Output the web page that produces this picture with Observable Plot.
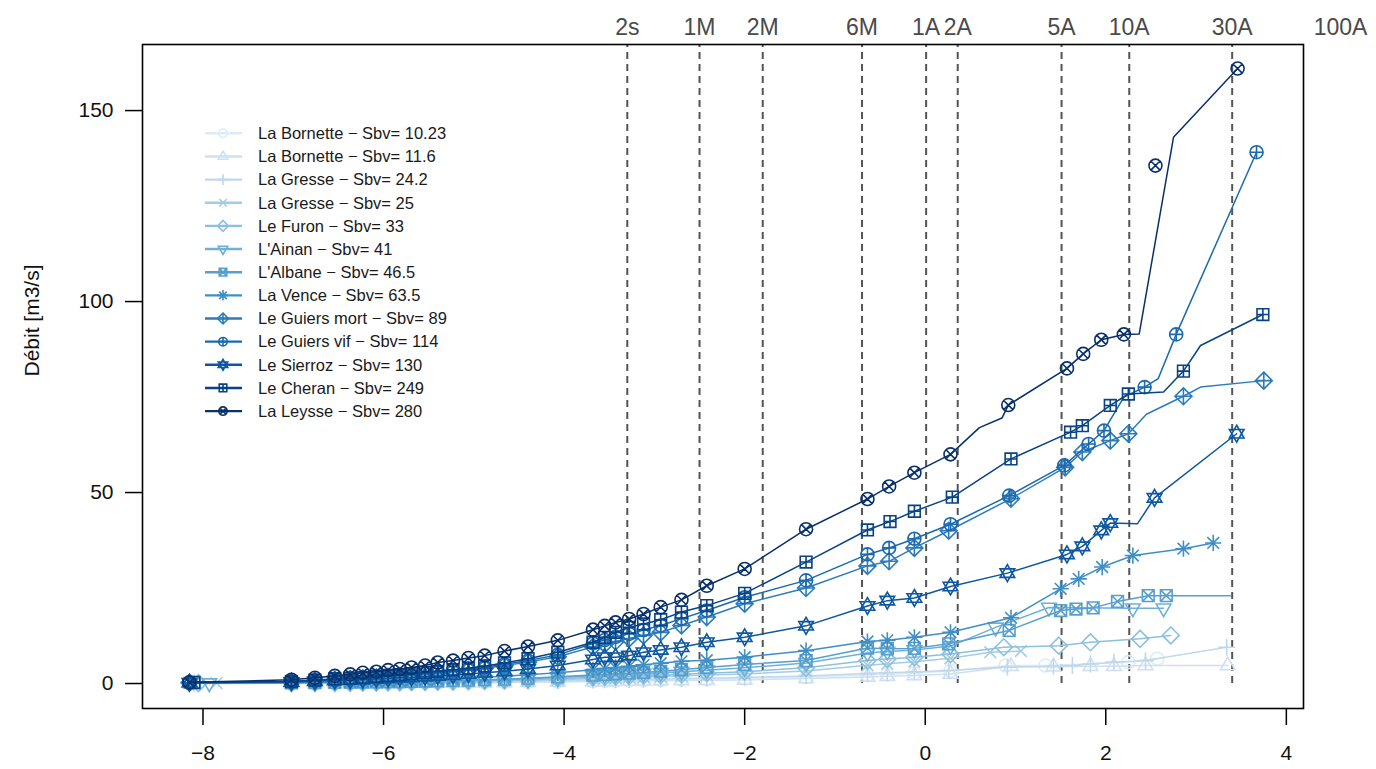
<!DOCTYPE html>
<html>
<head>
<meta charset="utf-8">
<script src="https://cdn.jsdelivr.net/npm/d3@7"></script>
<script src="https://cdn.jsdelivr.net/npm/@observablehq/plot@0.6"></script>
<style>
  html, body { margin: 0; padding: 0; background: #fff; overflow: hidden; }
  #chart svg { display: block; font-family: "Liberation Sans", Arial, sans-serif; }
</style>
</head>
<body>
<div id="chart"></div>
<script>
// ---------- data ----------
const seriesNames = ["La Bornette", "La Bornette", "La Gresse", "La Gresse", "Le Furon", "L'Ainan", "L'Albane",
  "La Vence", "Le Guiers mort", "Le Guiers vif", "Le Sierroz", "Le Cheran", "La Leysse"];
const sbvValues = ["10.23", "11.6", "24.2", "25", "33", "41", "46.5", "63.5", "89", "114", "130", "249", "280"];
const seriesColors = ["#DEEBF7", "#CEE0F2", "#BFD8EC", "#A4CCE3", "#8DC0DD", "#6FB0D7", "#569FCE",
  "#3F8FC5", "#2C7CBA", "#1B69AE", "#0C57A0", "#084385", "#08306B"];

// return-period reference lines (x = reduced variate) and their labels
const periodX = [-3.30, -2.50, -1.80, -0.70, 0.01, 0.36, 1.51, 2.26, 3.40, 4.60];
const periodLabels = ["2s", "1M", "2M", "6M", "1A", "2A", "5A", "10A", "30A", "100A"];

const xTicks = [-8, -6, -4, -2, 0, 2, 4];
const yTicks = [0, 50, 100, 150];

// first point of each series
const firstX = [-8.15, -8.10, -8.10, -7.85, -8.05, -7.93, -8.10, -8.15, -8.15, -8.15, -8.15, -8.10, -8.15];
const firstY = [0.02, 0.02, 0.05, 0.10, 0.10, 0.10, 0.10, 0.15, 0.20, 0.20, 0.20, 0.30, 0.30];

// common x positions for the low part of all series
const gridX = [-7.02, -6.76, -6.54, -6.37, -6.23, -6.08, -5.95, -5.82, -5.69, -5.54, -5.40, -5.23, -5.06, -4.88,
  -4.66, -4.40, -4.07, -3.68, -3.55, -3.43, -3.28, -3.12, -2.93, -2.70, -2.42, -2.00, -1.32, -0.64];

const bornette1Low = [0.05,0.06,0.07,0.08,0.09,0.1,0.11,0.12,0.13,0.15,0.17,0.19,0.22,0.25,0.3,0.36,0.45,0.6,0.65,0.7,0.75,0.82,0.9,1.0,1.1,1.3,1.7,2.2];
const bornette1HiX = [-0.42,-0.12,0.28,0.89,1.33,2.25,2.57];
const bornette1HiY = [2.4,2.7,3.3,4.7,4.7,5.6,6.5];

const bornette2Low = [0.04,0.05,0.06,0.07,0.08,0.09,0.1,0.11,0.12,0.13,0.15,0.17,0.19,0.22,0.26,0.32,0.4,0.5,0.55,0.6,0.65,0.7,0.75,0.8,0.85,0.95,1.3,1.7];
const bornette2HiX = [-0.42,-0.12,0.28,0.95,1.42,1.83,2.09,2.44,3.35];
const bornette2HiY = [1.9,2.1,2.5,4.5,4.4,4.5,4.5,4.7,4.7];

const gresse1Low = [0.08,0.1,0.12,0.14,0.16,0.18,0.2,0.22,0.24,0.27,0.3,0.34,0.38,0.43,0.5,0.6,0.72,0.9,0.95,1.0,1.05,1.1,1.2,1.3,1.4,1.6,2.0,2.6];
const gresse1HiX = [-0.42,-0.12,0.26,0.91,1.42,1.63,1.83,2.09,2.44,3.34];
const gresse1HiY = [2.8,3.0,3.4,4.3,4.5,4.7,5.1,5.6,6.0,9.5];

const gresse2Low = [0.12,0.15,0.18,0.2,0.23,0.26,0.29,0.32,0.35,0.4,0.45,0.5,0.56,0.63,0.72,0.85,1.0,1.3,1.4,1.5,1.6,1.7,1.85,2.0,2.2,2.5,3.3,4.8];
const gresse2HiX = [-0.42,-0.12,0.28,0.72,1.06];
const gresse2HiY = [5.2,5.7,6.6,8.2,8.5];

const furonLow = [0.15,0.18,0.21,0.24,0.27,0.3,0.34,0.38,0.42,0.47,0.52,0.58,0.65,0.73,0.85,1.0,1.25,1.6,1.7,1.8,1.9,2.05,2.2,2.4,2.7,3.1,4.1,6.0];
const furonHiX = [-0.42,-0.12,0.28,0.87,1.48,1.83,2.38,2.72];
const furonHiY = [6.4,6.9,7.7,9.5,9.9,10.8,11.7,12.6];

const ainanLow = [0.18,0.22,0.26,0.3,0.33,0.37,0.41,0.46,0.51,0.57,0.64,0.72,0.8,0.9,1.05,1.25,1.6,2.0,2.15,2.3,2.45,2.6,2.8,3.1,3.5,4.1,5.4,8.0];
const ainanHiX = [-0.42,-0.12,0.28,0.78,1.37,2.30,2.64];
const ainanHiY = [8.4,8.8,9.8,14.7,19.9,19.7,19.7];

const albaneLow = [0.2,0.25,0.3,0.34,0.38,0.42,0.47,0.52,0.58,0.65,0.72,0.8,0.9,1.0,1.15,1.4,1.75,2.2,2.4,2.55,2.7,2.9,3.2,3.6,4.2,5.0,6.0,9.3];
const albaneHiX = [-0.42,-0.12,0.26,0.93,1.50,1.67,1.86,2.13,2.47,2.67];
const albaneHiY = [9.1,9.2,10.4,13.9,19.1,19.5,19.8,21.5,23.0,23.0];
const albaneLineX = [3.38];
const albaneLineY = [23.0];

const venceLow = [0.25,0.3,0.38,0.45,0.52,0.6,0.7,0.8,0.9,1.0,1.15,1.3,1.45,1.65,1.9,2.3,2.8,3.6,3.9,4.2,4.5,4.9,5.3,5.8,6.1,6.9,8.6,11.0];
const venceHiX = [-0.42,-0.12,0.28,0.95,1.50,1.70,1.96,2.30,2.86,3.19];
const venceHiY = [11.3,12.1,13.4,17.2,24.8,27.4,30.5,33.5,35.3,36.8];

const guiersMortLow = [0.5,0.75,0.95,1.15,1.35,1.55,1.75,1.95,2.2,2.45,2.75,3.1,3.5,4.0,4.7,5.6,7.0,9.6,10.3,11.0,11.8,12.6,13.4,15.2,17.4,20.9,25.0,30.8];
const guiersMortHiX = [-0.40,-0.12,0.26,0.95,1.55,1.74,2.05,2.25,2.86,3.75];
const guiersMortHiY = [32.0,35.5,40.0,48.4,56.6,60.6,63.6,65.4,75.2,79.3];
const guiersMortLineX = [2.45, 3.05];
const guiersMortLineY = [70.5, 77.6];

const guiersVifLow = [0.5,0.8,1.05,1.3,1.5,1.75,1.95,2.15,2.4,2.7,3.0,3.4,3.8,4.3,5.0,6.0,7.5,10.5,11.4,12.2,13.0,14.0,15.2,17.0,19.1,22.6,27.0,33.8];
const guiersVifHiX = [-0.40,-0.12,0.28,0.93,1.54,1.81,1.98,2.43,2.78,3.67];
const guiersVifHiY = [35.5,37.9,41.7,49.2,57.1,62.7,66.2,77.6,91.4,139.1];
const guiersVifLineX = [2.20, 2.58];
const guiersVifLineY = [75.0, 79.8];

const sierrozLow = [0.4,0.6,0.8,0.9,1.0,1.2,1.3,1.5,1.6,1.8,2.0,2.2,2.5,2.8,3.2,3.8,4.7,6.3,6.9,6.9,7.3,8.2,8.8,9.5,10.8,12.1,15.1,20.3];
const sierrozHiX = [-0.42,-0.12,0.28,0.91,1.57,1.74,1.95,2.05,2.54,3.45];
const sierrozHiY = [21.7,22.4,25.4,28.9,33.8,35.9,40.1,42.0,48.6,65.4];
const sierrozLineX = [2.35];
const sierrozLineY = [41.8];

const cheranLow = [0.5,0.9,1.2,1.4,1.6,1.9,2.1,2.3,2.6,2.9,3.2,3.6,4.0,4.6,5.4,6.5,8.2,10.8,12.1,13.4,14.7,15.6,16.7,18.7,20.4,23.6,31.8,40.2];
const cheranHiX = [-0.39,-0.12,0.30,0.95,1.61,1.74,2.05,2.25,2.86,3.74];
const cheranHiY = [42.4,45.1,48.8,58.8,65.8,67.5,72.8,75.8,81.8,96.6];
const cheranLineX = [2.64, 3.05];
const cheranLineY = [76.3, 88.5];

const leysseLow = [1.0,1.5,2.0,2.4,2.8,3.1,3.5,3.8,4.2,4.7,5.5,6.0,6.7,7.3,8.5,9.7,11.3,14.1,15.1,16.0,16.9,18.2,20.0,21.9,25.6,30.0,40.4,48.3];
const leysseHiX = [-0.40,-0.12,0.28,0.92,1.57,1.75,1.95,2.20,2.55,3.46];
const leysseHiY = [51.6,55.2,60.0,72.9,82.5,86.3,90.0,91.4,135.6,161.0];
const leysseLineX = [0.60, 0.85, 2.37, 2.75];
const leysseLineY = [67.0, 69.5, 91.5, 143.0];
const leysseOffLineX = [2.55];

// ---------- R-like plotting symbols (pch 1..13) ----------
function sym(fn) { return { draw(ctx, size) { fn(ctx, Math.sqrt(size / Math.PI)); } }; }
const circ = (c, r) => { c.moveTo(r, 0); c.arc(0, 0, r, 0, 2 * Math.PI); c.closePath(); };
const plusP = (c, s) => { c.moveTo(-s, 0); c.lineTo(s, 0); c.moveTo(0, -s); c.lineTo(0, s); };
const timesP = (c, s) => { c.moveTo(-s, -s); c.lineTo(s, s); c.moveTo(-s, s); c.lineTo(s, -s); };
const triUp = (c, h) => { c.moveTo(0, -h); c.lineTo(h * 0.866, h * 0.5); c.lineTo(-h * 0.866, h * 0.5); c.closePath(); };
const triDn = (c, h) => { c.moveTo(0, h); c.lineTo(h * 0.866, -h * 0.5); c.lineTo(-h * 0.866, -h * 0.5); c.closePath(); };
const diam = (c, s) => { c.moveTo(0, -s); c.lineTo(s, 0); c.lineTo(0, s); c.lineTo(-s, 0); c.closePath(); };
const sq = (c, s) => { c.moveTo(-s, -s); c.lineTo(s, -s); c.lineTo(s, s); c.lineTo(-s, s); c.closePath(); };
const symbols = [
  sym((c, r) => circ(c, r)),
  sym((c, r) => triUp(c, r * 1.3)),
  sym((c, r) => plusP(c, r * 1.3)),
  sym((c, r) => timesP(c, r * 0.9)),
  sym((c, r) => diam(c, r * 1.3)),
  sym((c, r) => triDn(c, r * 1.3)),
  sym((c, r) => { sq(c, r * 0.9); timesP(c, r * 0.9); }),
  sym((c, r) => { plusP(c, r * 1.25); timesP(c, r * 0.9); }),
  sym((c, r) => { diam(c, r * 1.3); plusP(c, r * 1.3); }),
  sym((c, r) => { circ(c, r); plusP(c, r); }),
  sym((c, r) => { triUp(c, r * 1.3); triDn(c, r * 1.3); }),
  sym((c, r) => { sq(c, r * 0.9); plusP(c, r * 0.9); }),
  sym((c, r) => { circ(c, r); timesP(c, r * 0.707); })
];

// ---------- build series ----------
function build(i, low, hx, hy, ex = [], ey = [], offLine = []) {
  const pts = [{x: firstX[i], y: firstY[i]}]
    .concat(gridX.map((x, j) => ({x, y: low[j]})))
    .concat(hx.map((x, j) => ({x, y: hy[j]})));
  const line = pts.filter(p => !offLine.includes(p.x))
    .concat(ex.map((x, j) => ({x, y: ey[j]})))
    .sort((a, b) => a.x - b.x);
  return {pts, line};
}
const series = [
  build(0, bornette1Low, bornette1HiX, bornette1HiY),
  build(1, bornette2Low, bornette2HiX, bornette2HiY),
  build(2, gresse1Low, gresse1HiX, gresse1HiY),
  build(3, gresse2Low, gresse2HiX, gresse2HiY),
  build(4, furonLow, furonHiX, furonHiY),
  build(5, ainanLow, ainanHiX, ainanHiY),
  build(6, albaneLow, albaneHiX, albaneHiY, albaneLineX, albaneLineY),
  build(7, venceLow, venceHiX, venceHiY),
  build(8, guiersMortLow, guiersMortHiX, guiersMortHiY, guiersMortLineX, guiersMortLineY),
  build(9, guiersVifLow, guiersVifHiX, guiersVifHiY, guiersVifLineX, guiersVifLineY),
  build(10, sierrozLow, sierrozHiX, sierrozHiY, sierrozLineX, sierrozLineY),
  build(11, cheranLow, cheranHiX, cheranHiY, cheranLineX, cheranLineY),
  build(12, leysseLow, leysseHiX, leysseHiY, leysseLineX, leysseLineY, leysseOffLineX)
];

// ---------- plot ----------
const yTop = 167.3;
const marks = [
  Plot.ruleX(periodX.slice(0, 9), {y1: 0, y2: yTop, stroke: "#555", strokeWidth: 2, strokeDasharray: "7,5"}),
  Plot.text(periodX, {x: d => d, text: (d, i) => periodLabels[i], frameAnchor: "top", lineAnchor: "middle",
    dy: -17, fontSize: 23, fill: "#4a4a4a"})
];
series.forEach((s, i) => {
  marks.push(Plot.line(s.line, {x: "x", y: "y", stroke: seriesColors[i], strokeWidth: 1.5}));
  marks.push(Plot.dot(s.pts, {x: "x", y: "y", symbol: symbols[i], r: 6.5, fill: "none",
    stroke: seriesColors[i], strokeWidth: 1.6}));
});
marks.push(
  Plot.frame({stroke: "#000", strokeWidth: 1.6}),
  Plot.axisX({ticks: xTicks, tickSize: 17, tickPadding: 20, fontSize: 21, stroke: "#000", strokeWidth: 1.5, fill: "#111", label: null}),
  Plot.axisY({ticks: yTicks, tickSize: 17, tickPadding: 12, fontSize: 21, stroke: "#000", strokeWidth: 1.5, fill: "#111", label: null}),
  Plot.text(["Débit [m3/s]"], {frameAnchor: "left", dx: -110, rotate: -90, fontSize: 21, fill: "#111"})
);

const chart = Plot.plot({
  width: 1376,
  height: 769,
  marginLeft: 142,
  marginRight: 73,
  marginTop: 44,
  marginBottom: 61,
  style: {fontFamily: "'Liberation Sans', Arial, sans-serif", background: "#fff"},
  x: {domain: [-8.67, 4.19]},
  y: {domain: [-6.54, yTop]},
  marks
});
document.getElementById("chart").append(chart);

// ---------- legend (inside plot, top-left) ----------
const svg = d3.select(chart);
const lg = svg.append("g").attr("text-anchor", "start");
seriesNames.forEach((n, i) => {
  const yy = 133.3 + i * 23.15;
  lg.append("line").attr("x1", 205).attr("x2", 242).attr("y1", yy).attr("y2", yy)
    .attr("stroke", seriesColors[i]).attr("stroke-width", 2.4);
  lg.append("path").attr("transform", `translate(223,${yy})`)
    .attr("d", d3.symbol(symbols[i], 4.2 * 4.2 * Math.PI)())
    .attr("fill", "none").attr("stroke", seriesColors[i]).attr("stroke-width", 1.6);
  lg.append("text").attr("x", 258).attr("y", yy).attr("dy", "0.35em")
    .attr("text-anchor", "start")
    .attr("font-size", 16.5).attr("fill", "#1a1a1a")
    .text(`${n} \u2212 Sbv= ${sbvValues[i]}`);
});
</script>
</body>
</html>
